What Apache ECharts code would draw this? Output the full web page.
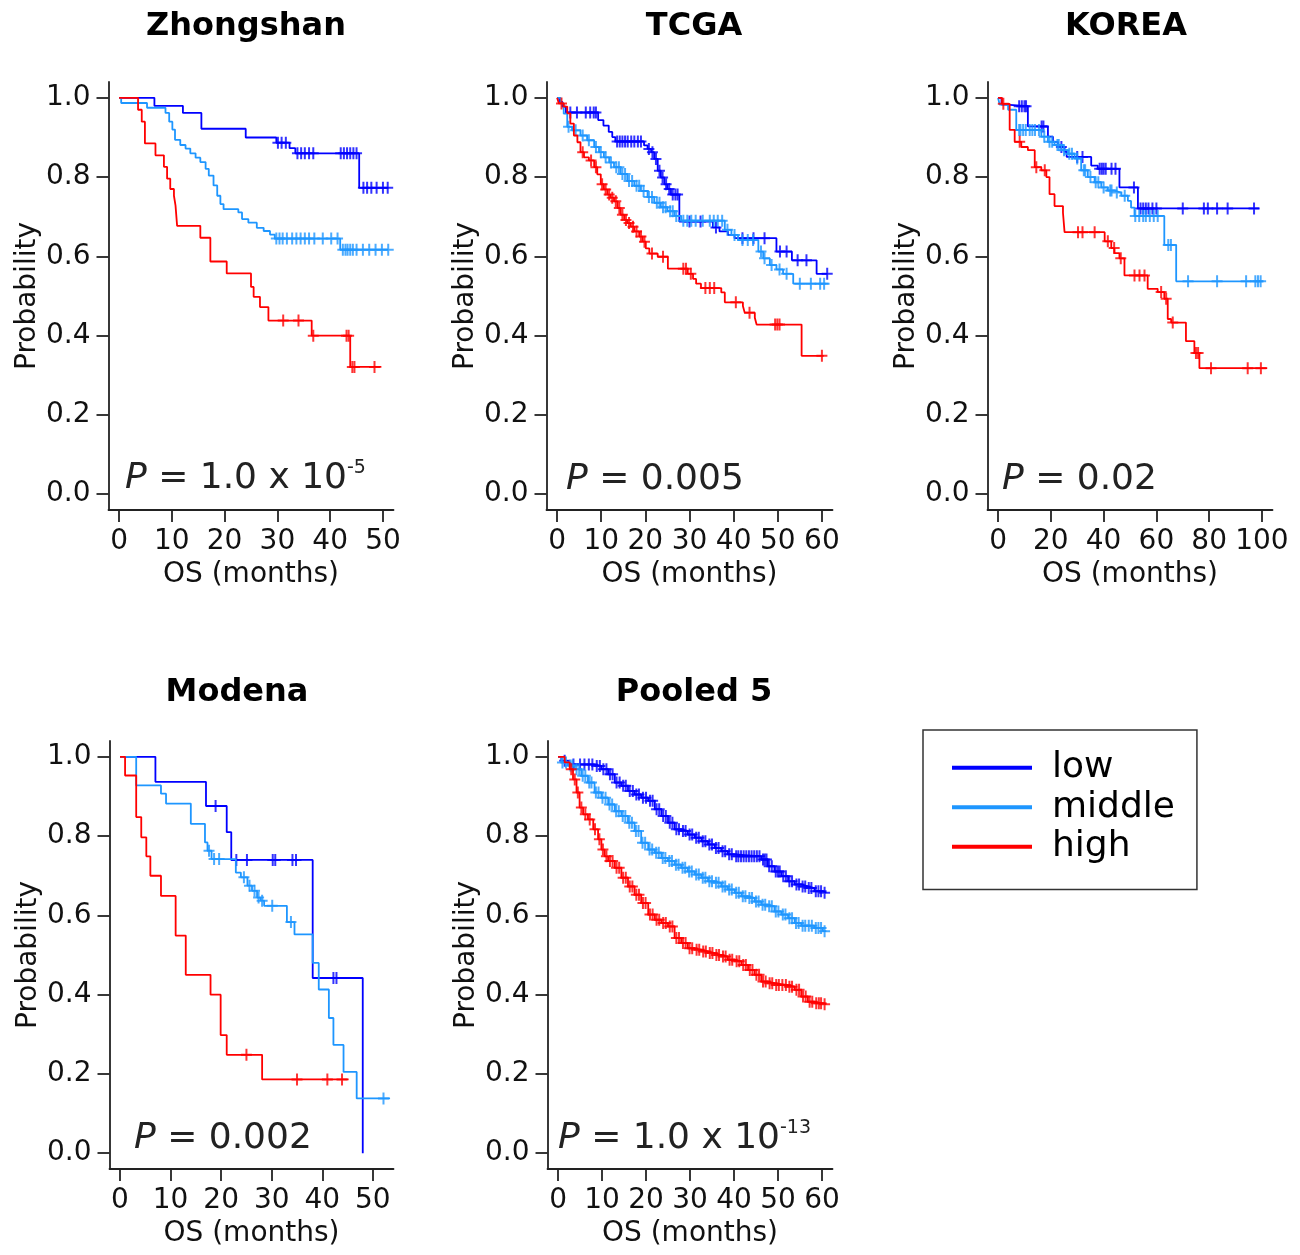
<!DOCTYPE html>
<html>
<head>
<meta charset="utf-8">
<script src="https://cdn.jsdelivr.net/npm/echarts@6/dist/echarts.min.js"></script>
<style>html,body{margin:0;padding:0;background:#fff}#c{width:1300px;height:1255px}</style>
</head>
<body>
<div id="c"></div>
<script>
// ---------- tick labels ----------
const yTicks = [0, 0.2, 0.4, 0.6, 0.8, 1.0];
const xTicks50 = [0, 10, 20, 30, 40, 50];
const xTicks60 = [0, 10, 20, 30, 40, 50, 60];
const xTicks100 = [0, 20, 40, 60, 80, 100];
const groupNames = ['low', 'middle', 'high'];
const panelTitles = ['Zhongshan', 'TCGA', 'KOREA', 'Modena', 'Pooled 5'];
const pValues = ['1.0 x 10|-5', '0.005', '0.02', '0.002', '1.0 x 10|-13'];

// ---------- Zhongshan ----------
const zhLowSteps = [[0,1],[6.7,0.98],[12.1,0.962],[15.6,0.922],[24,0.9],[29.8,0.887],[32.3,0.873],[33.4,0.86],[45.5,0.773],[51,0.773]];
const zhLowCens = [30.1,30.8,31.6,33.8,34.5,35.2,36,36.8,42,42.6,43.2,43.8,44.4,45,46.3,47,47.8,48.8,50,50.9];
const zhMidSteps = [[0,1],[0.4,0.987],[5.3,0.975],[8.8,0.962],[9.5,0.94],[10.1,0.92],[10.6,0.894],[11.6,0.881],[12.6,0.872],[13.5,0.86],[14.5,0.849],[15.4,0.838],[16.4,0.821],[17,0.804],[17.9,0.779],[18.6,0.753],[19.2,0.732],[19.8,0.719],[22.6,0.711],[23.3,0.694],[24.5,0.685],[26.1,0.672],[27.4,0.664],[28.6,0.655],[29.5,0.645],[41.9,0.617],[51,0.617]];
const zhMidCens = [29.8,30.4,31,31.8,32.8,33.6,34.4,35.2,36,37,38.6,40.2,41.4,42.4,42.9,43.3,43.8,44.3,45,46.2,47.4,48.6,49.8,51];
const zhHighSteps = [[0,1],[3.6,0.97],[4.3,0.94],[4.9,0.885],[6.9,0.855],[8.5,0.826],[9.1,0.796],[9.7,0.77],[10.4,0.753],[10.7,0.728],[11,0.677],[15.4,0.647],[17.3,0.587],[20.4,0.557],[25,0.523],[25.5,0.498],[26.7,0.472],[28.3,0.438],[36.5,0.4],[43.8,0.321],[49.7,0.321]];
const zhHighCens = [31.1,34,36.8,43.1,43.5,44.2,44.6,48.4];

// ---------- TCGA ----------
const tcLowSteps = [[0,1],[0.5,0.99],[1.2,0.978],[2,0.963],[9.3,0.944],[10.5,0.93],[11.7,0.914],[12.5,0.901],[13.2,0.89],[19.7,0.88],[20.5,0.871],[21.3,0.863],[22,0.846],[22.8,0.816],[23.5,0.799],[24.3,0.782],[25,0.77],[25.8,0.756],[27.7,0.688],[35.3,0.673],[36.8,0.663],[38.7,0.654],[40.2,0.646],[49.7,0.612],[53.2,0.59],[58.8,0.556],[61.3,0.556]];
const tcLowCens = [3,4.5,6.5,7.5,8.3,8.8,13.6,14.2,14.8,15.4,16,16.8,17.5,18.3,19,20.8,21.6,22.4,23.2,23.9,24.7,25.4,26.2,26.8,27.3,30,32.5,36,42,44.5,47,50.5,52,54.5,56.5,61.2];
const tcMidSteps = [[0,1],[0.8,0.986],[1.5,0.96],[2.3,0.927],[3.4,0.918],[5.3,0.905],[6.8,0.893],[8.4,0.876],[9.5,0.863],[10.6,0.85],[11.8,0.837],[12.9,0.825],[14.4,0.808],[15.9,0.79],[17.5,0.778],[19,0.765],[20.5,0.75],[22,0.735],[23.5,0.724],[25,0.714],[26.6,0.702],[28.1,0.69],[38,0.667],[39.5,0.654],[41,0.641],[45.6,0.612],[46.7,0.595],[48.2,0.578],[49.7,0.567],[51.2,0.556],[53.5,0.531],[61.5,0.531]];
const tcMidCens = [2.6,4.2,5.8,7.2,8.8,9.9,11,12.2,13.4,14,14.8,15.4,16.3,17,18,18.6,19.6,20.8,21.5,22.6,23.2,24,24.6,25.6,26.2,27,28.6,29.5,30.4,31.4,33,34.6,35.5,36.4,37.4,38.6,40.2,42,43.2,44.4,46.2,47,48.6,50.4,52,55,57.5,59.6,60.5];
const tcHighSteps = [[0,1],[0.4,0.986],[1.5,0.978],[2.3,0.961],[3,0.935],[3.8,0.905],[4.6,0.888],[5.3,0.863],[6.1,0.85],[7.2,0.842],[8.4,0.825],[9.1,0.807],[9.9,0.782],[10.6,0.769],[11.4,0.756],[12.1,0.748],[12.9,0.739],[13.7,0.722],[14.4,0.705],[15.2,0.692],[15.9,0.684],[16.7,0.675],[17.5,0.663],[18.6,0.65],[19.4,0.637],[20.1,0.62],[20.9,0.607],[22.8,0.599],[25.1,0.569],[29.6,0.556],[30.8,0.543],[31.5,0.531],[32.6,0.52],[37.2,0.509],[38,0.484],[42.1,0.475],[42.5,0.458],[44.8,0.445],[45.2,0.428],[55.4,0.349],[60.4,0.349]];
const tcHighCens = [1,5.8,7.7,8.8,10.2,11,11.8,12.5,13.3,14.1,14.8,15.6,16.3,17.2,18,19,19.8,21.5,24,28.6,29.2,30.3,33.6,34.6,35.6,40.5,43.6,49.4,49.9,50.4,60];

// ---------- KOREA ----------
const krLowSteps = [[0,1],[1.3,0.983],[3,0.979],[11.3,0.928],[18.9,0.902],[20.8,0.889],[22.7,0.876],[25.2,0.864],[26,0.851],[35.3,0.829],[37.8,0.821],[46,0.774],[53,0.721],[99,0.721]];
const krLowCens = [8,9,10,10.6,16.5,17.2,24,30,32,38.5,39.3,40,40.8,43,44.5,51.5,54,55,56,57,58.5,60,70,78,79.5,83,87,97];
const krMidSteps = [[0,1],[0.6,0.983],[3.8,0.97],[6.9,0.919],[16.4,0.902],[18.9,0.889],[21.4,0.881],[24,0.868],[26.5,0.859],[29,0.847],[31.5,0.817],[34,0.8],[36.6,0.787],[39.1,0.774],[41.6,0.766],[44.1,0.761],[46.7,0.753],[49.2,0.74],[50.4,0.723],[51.7,0.702],[63,0.629],[67.5,0.537],[100.5,0.537]];
const krMidCens = [8,8.5,9.5,10.5,12,13,14,15.5,17.5,19.5,20.5,22.5,23,25,27,28,30,32.5,33,35,37,38,40,42.5,43,45,48,52,53.5,55,56,57.5,59,60.5,64.5,65.5,72,83,94,97.5,98.5,99.5];
const krHighSteps = [[0,1],[1.5,0.985],[4.4,0.919],[6.3,0.889],[8.8,0.876],[11.3,0.868],[13.9,0.825],[16.4,0.817],[18.3,0.8],[19.5,0.757],[21.4,0.727],[24.6,0.71],[25.2,0.661],[40.4,0.638],[42.9,0.621],[44.1,0.608],[46,0.595],[47.9,0.552],[56.7,0.518],[60.5,0.51],[63,0.493],[64.3,0.442],[65.6,0.433],[71.2,0.386],[74.4,0.356],[76.3,0.318],[102,0.318]];
const krHighCens = [2,8.2,14.5,17.7,30.3,32,36.6,41.6,44,46.5,51.7,53.6,55.5,61.8,63.7,66.2,75,75.8,80.7,94.6,99.6];

// ---------- Modena ----------
const moLowSteps = [[0,1],[7,0.937],[17,0.876],[21.1,0.81],[22,0.74],[38.1,0.442],[48,0]];
const moLowCens = [18.9,23,25.1,30.2,30.7,34.1,34.8,42.2,42.8];
const moMidSteps = [[0,1],[3.2,0.928],[8.1,0.907],[9.1,0.882],[14,0.831],[16.8,0.784],[17.3,0.763],[18.1,0.742],[22.9,0.708],[23.9,0.696],[25.2,0.675],[26.1,0.662],[27.1,0.645],[27.8,0.637],[28.5,0.624],[33,0.583],[34.5,0.552],[38.1,0.48],[39.3,0.413],[41.3,0.341],[42.2,0.273],[44.2,0.205],[46.8,0.138],[53.4,0.138]];
const moMidCens = [17.6,18.6,19.6,24.5,25.6,26.6,27.4,28.1,30.1,33.8,52.1];
const moHighSteps = [[0,1],[1,0.953],[3.2,0.848],[4.2,0.797],[5.2,0.749],[6,0.7],[8.1,0.649],[11,0.549],[13,0.45],[17.9,0.4],[19.9,0.298],[21.1,0.248],[28.1,0.186],[45.2,0.186]];
const moHighCens = [25,35,41,43.9];

// ---------- Pooled 5 ----------
const plLowSteps = [[0,1],[0.76,0.99],[2.27,0.981],[8.3,0.977],[9.85,0.969],[11.4,0.956],[12.9,0.935],[14.4,0.927],[15.9,0.914],[17.4,0.905],[18.9,0.897],[20.5,0.889],[22,0.868],[23.5,0.851],[25,0.834],[26.5,0.817],[28,0.813],[29.5,0.804],[31.1,0.796],[32.6,0.787],[34.1,0.779],[35.6,0.77],[37.1,0.762],[38.6,0.754],[40.2,0.749],[46.2,0.741],[47.7,0.724],[49.2,0.711],[50.8,0.699],[52.3,0.686],[53.8,0.678],[55.3,0.673],[56.8,0.669],[58.3,0.661],[60.2,0.657],[61,0.657]];
const plLowCens = [1.5,3.5,5,6,7,7.8,8.8,9.5,10.3,11,11.8,12.4,13.3,14,14.8,15.4,16.3,17,17.8,18.4,19.3,20,20.9,21.5,22.4,23,23.9,24.5,25.4,26,26.9,27.5,28.4,29,29.9,30.5,31.4,32,32.9,33.5,34.4,35,35.9,36.5,37.4,38,38.9,39.5,40.5,41,41.6,42.2,42.8,43.4,44,44.6,45.2,45.8,46.6,47,47.4,48,48.6,49.5,50,50.4,51.2,51.8,52.6,53.2,54.2,54.8,55.6,56.2,57,57.6,58.6,59.2,59.8,60.6];
const plMidSteps = [[0,1],[0.76,0.986],[2.27,0.978],[3.8,0.969],[5.3,0.952],[6.8,0.935],[8.3,0.91],[9.85,0.897],[11.4,0.88],[12.9,0.863],[14.4,0.851],[15.9,0.834],[17.4,0.813],[18.9,0.783],[20.5,0.766],[22,0.758],[23.5,0.745],[25,0.737],[26.5,0.728],[28,0.72],[29.5,0.711],[31.1,0.703],[32.6,0.695],[34.1,0.686],[35.6,0.682],[37.1,0.673],[38.6,0.665],[40.2,0.657],[41.7,0.648],[43.2,0.644],[44.7,0.635],[46.2,0.627],[47.7,0.623],[49.2,0.61],[50.8,0.602],[52.3,0.593],[53.8,0.581],[55.3,0.574],[58.3,0.568],[60.2,0.56],[61,0.56]];
const plMidCens = [1,1.8,2.8,3.3,4.2,4.8,5.6,6.2,7.1,7.6,8.6,9.2,10.1,10.8,11.7,12.3,13.2,13.8,14.7,15.3,16.2,16.8,17.7,18.3,19.2,19.8,20.8,21.4,22.3,22.9,23.8,24.4,25.3,25.9,26.8,27.4,28.3,28.9,29.8,30.4,31.4,32,32.9,33.5,34.4,35,35.9,36.5,37.4,38,38.9,39.5,40.5,41.1,42,42.6,43.5,44.1,45,45.6,46.5,47.1,48,48.6,49.5,50.1,51.1,51.7,52.6,53.2,54.1,54.7,55.6,56.2,57,57.7,58.6,59.2,59.8,60.6];
const plHighSteps = [[0,1],[1.5,0.986],[2.65,0.969],[3.4,0.943],[4.2,0.91],[4.9,0.872],[5.7,0.855],[6.8,0.842],[8,0.817],[9.1,0.792],[9.85,0.766],[10.6,0.749],[11.4,0.737],[12.9,0.72],[14.4,0.695],[15.9,0.673],[17.4,0.652],[18.9,0.631],[20.5,0.602],[22,0.589],[23.5,0.581],[25,0.572],[26.5,0.543],[28,0.53],[29.5,0.517],[31.1,0.513],[32.6,0.509],[34.1,0.505],[35.6,0.5],[37.1,0.496],[38.6,0.488],[40.2,0.484],[41.7,0.475],[43.2,0.462],[44.7,0.45],[46.2,0.433],[47.7,0.429],[49.2,0.424],[52.3,0.42],[53.8,0.412],[55.3,0.395],[56.8,0.382],[58.3,0.378],[60.2,0.376],[61,0.376]];
const plHighCens = [3,3.8,4.5,5.3,6.2,7.2,8.4,9.4,10.2,11,11.8,12.4,13.3,13.9,14.8,15.4,16.3,16.9,17.8,18.4,19.3,19.9,20.9,21.5,22.4,23,23.9,24.5,25.4,26,26.9,27.5,28.4,29,29.9,30.5,31.5,32.1,33,33.6,34.5,35.1,36,36.6,37.5,38.1,39,39.6,40.6,41.2,42.1,42.7,43.6,44.2,45.1,45.7,46.6,47.2,48.1,48.7,49.6,50.2,51,51.8,52.6,53.2,54.2,54.8,55.7,56.3,57.2,57.8,58.7,59.3,59.8,60.6];

// ---------- styling / layout ----------
const FONT = 'DejaVu Sans';
const COLORS = ['#0000FF', '#1E96FF', '#FF0000'];
const TXT = '#111';
const AX = '#222';
const CROSS = 'path://M-1,-6L1,-6L1,-1L5.5,-1L5.5,1L1,1L1,6L-1,6L-1,1L-5.5,1L-5.5,-1L-1,-1Z';

const panels = [
  { grid: {left: 108.5, top: 82, width: 285, height: 428}, xMin: -2, xMax: 52, xTicks: xTicks50,
    curves: [[zhLowSteps, zhLowCens], [zhMidSteps, zhMidCens], [zhHighSteps, zhHighCens]],
    titlePos: [246, 27], pPos: [125, 479] },
  { grid: {left: 546.5, top: 82, width: 286, height: 428}, xMin: -2.4, xMax: 62.4, xTicks: xTicks60,
    curves: [[tcLowSteps, tcLowCens], [tcMidSteps, tcMidCens], [tcHighSteps, tcHighCens]],
    titlePos: [694, 27], pPos: [566, 480] },
  { grid: {left: 987.5, top: 82, width: 285, height: 428}, xMin: -4, xMax: 104, xTicks: xTicks100,
    curves: [[krLowSteps, krLowCens], [krMidSteps, krMidCens], [krHighSteps, krHighCens]],
    titlePos: [1126, 27], pPos: [1002, 480] },
  { grid: {left: 109.5, top: 741, width: 284, height: 428}, xMin: -2.08, xMax: 54.08, xTicks: xTicks50,
    curves: [[moLowSteps, moLowCens], [moMidSteps, moMidCens], [moHighSteps, moHighCens]],
    titlePos: [237, 693], pPos: [134, 1139] },
  { grid: {left: 547.5, top: 741, width: 285, height: 428}, xMin: -2.4, xMax: 62.4, xTicks: xTicks60,
    curves: [[plLowSteps, plLowCens], [plMidSteps, plMidCens], [plHighSteps, plHighCens]],
    titlePos: [694, 693], pPos: [558, 1139] }
];

// survival value of a step curve at time t (value of last event at or before t)
function survAt(steps, t) {
  let s = steps[0][1];
  for (const p of steps) { if (p[0] <= t) s = p[1]; else break; }
  return s;
}

const grids = [], xAxes = [], yAxes = [], series = [], graphics = [];
panels.forEach((p, i) => {
  grids.push(Object.assign({containLabel: false}, p.grid));
  xAxes.push({
    type: 'value', gridIndex: i, min: p.xMin, max: p.xMax,
    axisLine: {show: true, onZero: false, lineStyle: {color: AX, width: 1.8}},
    axisTick: {show: true, customValues: p.xTicks, length: 12, lineStyle: {color: AX, width: 1.8}},
    axisLabel: {customValues: p.xTicks, fontSize: 28, fontFamily: FONT, color: TXT, margin: 18},
    splitLine: {show: false},
    name: 'OS (months)', nameLocation: 'middle', nameGap: 51,
    nameTextStyle: {fontSize: 28, fontFamily: FONT, color: TXT}
  });
  yAxes.push({
    type: 'value', gridIndex: i, min: -0.04, max: 1.04,
    axisLine: {show: true, onZero: false, lineStyle: {color: AX, width: 1.8}},
    axisTick: {show: true, customValues: yTicks, length: 12, lineStyle: {color: AX, width: 1.8}},
    axisLabel: {customValues: yTicks, fontSize: 28, fontFamily: FONT, color: TXT, margin: 18,
                formatter: v => v.toFixed(1)},
    splitLine: {show: false},
    name: 'Probability', nameLocation: 'middle', nameGap: 67,
    nameTextStyle: {fontSize: 28, fontFamily: FONT, color: TXT}
  });
  p.curves.forEach((c, g) => {
    series.push({
      type: 'line', name: groupNames[g], xAxisIndex: i, yAxisIndex: i,
      data: c[0], step: 'end', showSymbol: false, symbol: 'none', color: COLORS[g],
      lineStyle: {width: 1.8, color: COLORS[g]}, silent: true, z: 2 + g
    });
  });
  p.curves.forEach((c, g) => {
    series.push({
      type: 'scatter', name: groupNames[g], xAxisIndex: i, yAxisIndex: i,
      data: c[1].map(t => [t, survAt(c[0], t)]),
      symbol: CROSS, symbolSize: [11, 12], color: COLORS[g],
      itemStyle: {color: COLORS[g]}, silent: true, z: 2 + g
    });
  });
  graphics.push({
    type: 'text', x: p.titlePos[0], y: p.titlePos[1], silent: true,
    style: {text: panelTitles[i], fontSize: 32, fontWeight: 'bold', fontFamily: FONT,
            fill: '#000', align: 'center', verticalAlign: 'middle'}
  });
  const pv = pValues[i].split('|');
  const txt = '{i|P} = ' + pv[0] + (pv[1] ? '{s|' + pv[1] + '}' : '');
  graphics.push({
    type: 'text', x: p.pPos[0], y: p.pPos[1], silent: true,
    style: {text: txt, fontSize: 36, fontFamily: FONT, fill: '#222', lineHeight: 40,
            align: 'left', verticalAlign: 'middle',
            rich: {
              i: {fontSize: 36, fontFamily: FONT, fontStyle: 'italic', lineHeight: 40, fill: '#222'},
              s: {fontSize: 19, fontFamily: FONT, lineHeight: 20, verticalAlign: 'top', fill: '#222'}
            }}
  });
});

const chart = echarts.init(document.getElementById('c'), null, {renderer: 'canvas'});
chart.setOption({
  animation: false,
  backgroundColor: '#fff',
  grid: grids, xAxis: xAxes, yAxis: yAxes, series: series,
  legend: {
    data: groupNames, orient: 'vertical', left: 923, top: 730,
    padding: [18, 22, 23, 29], itemWidth: 80, itemHeight: 4, itemGap: 0, icon: 'rect',
    textStyle: {fontSize: 36, fontFamily: FONT, color: '#000', lineHeight: 39.5, padding: [0, 0, 0, 15]},
    borderColor: '#333', borderWidth: 1.5, selectedMode: false
  },
  graphic: graphics
});
</script>
</body>
</html>
